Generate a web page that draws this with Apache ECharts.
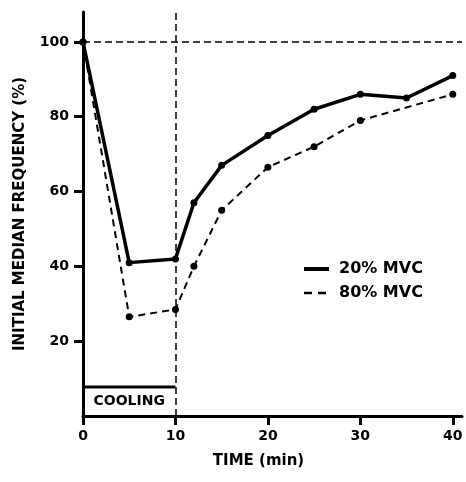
<!DOCTYPE html>
<html>
<head>
<meta charset="utf-8">
<script src="https://cdn.jsdelivr.net/npm/echarts@6/dist/echarts.min.js"></script>
<style>
  body { margin: 0; background: #fff; }
  #chart { width: 466px; height: 482px; }
</style>
</head>
<body>
<div id="chart"></div>
<script>
  // data
  var time20 = [0, 5, 10, 12, 15, 20, 25, 30, 35, 40];
  var mvc20 = [100, 41, 42, 57, 67, 75, 82, 86, 85, 91];
  var time80 = [0, 5, 10, 12, 15, 20, 25, 30, 40];
  var mvc80 = [100, 26.5, 28.5, 40, 55, 66.5, 72, 79, 86];
  var xTicks = [0, 10, 20, 30, 40];
  var yTicks = [20, 40, 60, 80, 100];
  var coolingX = [0, 10];
  var coolingY = [7.75, 7.75];
  var baseline = 100;
  var coolingEnd = 10;

  function pairs(xs, ys) {
    var out = [];
    for (var i = 0; i < xs.length; i++) out.push([xs[i], ys[i]]);
    return out;
  }

  var font = 'DejaVu Sans';
  var chart = echarts.init(document.getElementById('chart'));
  var option = {
    animation: false,
    textStyle: { fontFamily: font, fontWeight: 'bold', color: '#000' },
    grid: { left: 83, right: 4, top: 12, bottom: 66, containLabel: false },
    legend: {
      orient: 'vertical',
      left: 297,
      top: 256,
      itemWidth: 25,
      itemHeight: 14,
      itemGap: 8,
      itemStyle: { opacity: 0 },
      textStyle: { fontFamily: font, fontWeight: 'bold', fontSize: 16, color: '#000', padding: [0, 0, 0, 5] },
      data: [
        { name: '20% MVC', lineStyle: { width: 4 } },
        { name: '80% MVC', lineStyle: { width: 2.5, type: [8, 6] } }
      ]
    },
    xAxis: {
      type: 'value',
      min: 0,
      max: 41,
      interval: 10,
      name: 'TIME (min)',
      nameLocation: 'middle',
      nameGap: 38,
      nameTextStyle: { fontFamily: font, fontWeight: 'bold', fontSize: 15, color: '#000', padding: [0, 28, 0, 0] },
      axisLine: { lineStyle: { color: '#000', width: 3 } },
      axisTick: { length: 9, lineStyle: { width: 3, color: '#000' }, customValues: xTicks },
      axisLabel: { fontFamily: font, fontWeight: 'bold', fontSize: 14, color: '#000', margin: 13, customValues: xTicks },
      splitLine: { show: false }
    },
    yAxis: {
      type: 'value',
      min: 0,
      max: 108,
      interval: 20,
      name: 'INITIAL MEDIAN FREQUENCY (%)',
      nameLocation: 'middle',
      nameGap: 55,
      nameTextStyle: { fontFamily: font, fontWeight: 'bold', fontSize: 15, color: '#000' },
      axisLine: { lineStyle: { color: '#000', width: 3 } },
      axisTick: { length: 9, lineStyle: { width: 3, color: '#000' }, customValues: yTicks },
      axisLabel: { fontFamily: font, fontWeight: 'bold', fontSize: 14, color: '#000', margin: 14, customValues: yTicks },
      splitLine: { show: false }
    },
    series: [
      {
        name: 'cooling',
        type: 'line',
        silent: true,
        data: pairs(coolingX, coolingY),
        symbol: 'none',
        lineStyle: { color: '#000', width: 3 },
        z: 1,
        markArea: {
          silent: true,
          itemStyle: { color: 'rgba(0,0,0,0)' },
          label: {
            show: true,
            position: 'inside',
            fontFamily: font,
            fontWeight: 'bold',
            fontSize: 14,
            color: '#000'
          },
          data: [[{ name: 'COOLING', xAxis: coolingX[0], yAxis: 0 }, { xAxis: coolingX[1], yAxis: coolingY[1] }]]
        },
        markLine: {
          silent: true,
          symbol: 'none',
          label: { show: false },
          lineStyle: { color: '#000', width: 1.5, type: [7, 4] },
          data: [{ yAxis: baseline }, { xAxis: coolingEnd }]
        }
      },
      {
        name: '20% MVC',
        type: 'line',
        data: pairs(time20, mvc20),
        symbol: 'circle',
        symbolSize: 7,
        itemStyle: { color: '#000' },
        lineStyle: { color: '#000', width: 3.5 },
        z: 3
      },
      {
        name: '80% MVC',
        type: 'line',
        data: pairs(time80, mvc80),
        symbol: 'circle',
        symbolSize: 7,
        itemStyle: { color: '#000' },
        lineStyle: { color: '#000', width: 2, type: [7, 5] },
        z: 2
      }
    ]
  };
  chart.setOption(option);
</script>
</body>
</html>
